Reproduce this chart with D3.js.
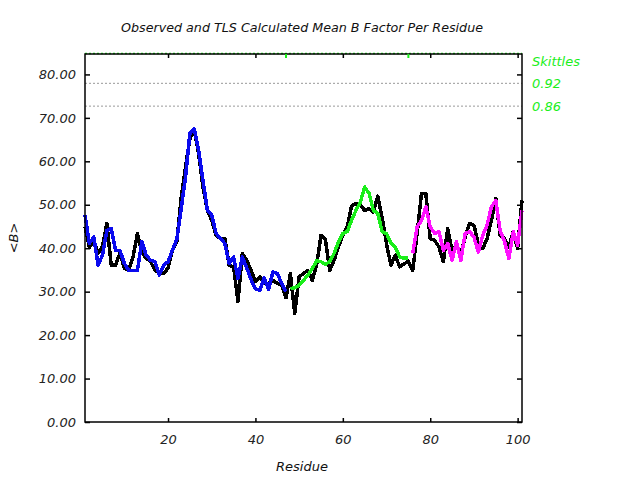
<!DOCTYPE html>
<html>
<head>
<meta charset="utf-8">
<script src="https://cdn.jsdelivr.net/npm/d3@7"></script>
<style>
  html, body { margin: 0; padding: 0; background: #fff; }
  svg { display: block; }
  text { font-family: "DejaVu Sans", sans-serif; font-style: italic; }
</style>
</head>
<body>
<svg id="chart" width="640" height="480"></svg>
<script>
// ---------------- data ----------------
const title = "Observed and TLS Calculated Mean B Factor Per Residue";
const xLabel = "Residue";
const yLabel = "<B>";

const xTicks = [20, 40, 60, 80, 100];
const yTicks = [0, 10, 20, 30, 40, 50, 60, 70, 80];

// observed mean B, residues 1..101
const observedStart = 1;
const observed = [
  45.0, 40.2, 41.8, 38.8, 40.4, 45.7, 36.1, 36.1, 38.9, 35.4,
  34.9, 38.0, 43.4, 39.1, 37.7, 36.9, 35.0, 34.2, 34.2, 35.4,
  39.5, 41.5, 51.5, 58.7, 65.2, 67.2, 61.8, 54.1, 48.7, 46.4,
  43.0, 42.2, 42.2, 36.1, 35.7, 27.7, 38.8, 37.3, 34.9, 32.3,
  33.4, 31.9, 31.9, 32.6, 31.9, 31.6, 28.6, 34.2, 25.0, 33.4,
  34.2, 34.9, 32.6, 36.1, 43.0, 42.0, 34.9, 37.2, 40.3, 43.0,
  44.9, 49.7, 50.3, 49.9, 48.7, 49.1, 48.3, 52.0, 47.0, 41.0,
  36.1, 38.4, 35.7, 36.4, 37.0, 34.9, 43.4, 52.6, 52.6, 42.2,
  41.8, 40.3, 36.9, 44.5, 39.5, 40.7, 38.8, 42.6, 45.7, 45.3,
  41.1, 39.9, 42.2, 46.4, 51.4, 43.0, 42.2, 40.3, 43.8, 39.9,
  51.0
];

// TLS segment 1 (blue), residues 1..47
const tls1Start = 1;
const tls1 = [
  47.6, 41.1, 42.6, 36.1, 38.4, 44.1, 44.5, 39.5, 39.5, 36.5,
  34.9, 34.9, 34.9, 41.5, 38.4, 37.2, 36.9, 33.8, 36.1, 36.9,
  39.5, 42.0, 49.0, 56.4, 66.4, 67.5, 62.5, 55.6, 48.7, 47.6,
  43.4, 42.2, 41.1, 36.5, 38.0, 33.0, 38.0, 35.5, 32.8, 30.6,
  30.3, 33.2, 30.5, 34.5, 34.2, 31.9, 30.0
];

// TLS segment 2 (green), residues 48..75
const tls2Start = 48;
const tls2 = [
  30.7, 30.9, 31.5, 32.6, 33.8, 35.3, 37.1, 36.9, 36.3, 36.9,
  38.8, 41.5, 43.4, 43.8, 46.4, 48.7, 50.6, 54.1, 52.6, 48.7,
  48.0, 43.8, 43.4, 41.1, 40.3, 38.0, 37.7, 37.7
];

// TLS segment 3 (magenta), residues 76..101
const tls3Start = 76;
const tls3 = [
  38.8, 44.9, 46.4, 49.5, 44.9, 43.4, 43.8, 39.5, 41.1, 37.2,
  41.5, 37.2, 43.4, 43.8, 42.6, 39.1, 42.9, 45.3, 49.5, 51.0,
  44.1, 41.5, 37.6, 43.8, 40.7, 48.7
];

// Skittles reference lines
const skittlesLabel = "Skittles";
const skittlesLevels = [0.92, 0.86];
const skittlesB = [77.95, 72.7];   // B value where the dotted reference lines lie
const segmentBounds = [47, 75];    // green markers on the top edge

// ---------------- layout ----------------
const svg = d3.select("#chart");
const pL = 85, pR = 522, pT = 54, pB = 422;

const x = d3.scaleLinear().domain([1, 101]).range([pL, pR]);
const y = d3.scaleLinear().domain([0, 84.7]).range([pB, pT]);

const green = "#1aee1a";

// title
svg.append("text")
  .attr("x", 302).attr("y", 32)
  .attr("text-anchor", "middle")
  .attr("font-size", 12.7)
  .attr("fill", "#111")
  .text(title);

// skittles dotted lines
svg.selectAll("line.sk")
  .data(skittlesB)
  .enter().append("line")
  .attr("x1", pL).attr("x2", pR)
  .attr("y1", d => y(d)).attr("y2", d => y(d))
  .attr("stroke", "#999")
  .attr("stroke-width", 1)
  .attr("stroke-dasharray", "2,2");

// top green dotted line
svg.append("line")
  .attr("x1", pL).attr("x2", pR)
  .attr("y1", pT - 0.5).attr("y2", pT - 0.5)
  .attr("stroke", green)
  .attr("stroke-width", 1.5)
  .attr("stroke-dasharray", "2,2");

// lines
const lineGen = (start) => d3.line()
  .x((d, i) => x(start + i))
  .y(d => y(d));

function drawSeries(vals, start, color) {
  svg.append("path")
    .datum(vals)
    .attr("d", lineGen(start))
    .attr("fill", "none")
    .attr("stroke", color)
    .attr("stroke-width", 3.5)
    .attr("stroke-linejoin", "round")
    .attr("shape-rendering", "crispEdges");
}
drawSeries(observed, observedStart, "#000000");
drawSeries(tls1, tls1Start, "#0a0aee");
drawSeries(tls2, tls2Start, green);
drawSeries(tls3, tls3Start, "#ff11ff");

// axes
const fmt = d3.format(".2f");
const gL = svg.append("g").attr("transform", `translate(${pL},0)`)
  .call(d3.axisLeft(y).tickValues(yTicks).tickSize(-5).tickPadding(9).tickFormat(fmt));
const gR = svg.append("g").attr("transform", `translate(${pR},0)`)
  .call(d3.axisRight(y).tickValues(yTicks).tickSize(-5).tickFormat(""));
const gB = svg.append("g").attr("transform", `translate(0,${pB})`)
  .call(d3.axisBottom(x).tickValues(xTicks).tickSize(-4).tickPadding(13).tickFormat(d3.format("d")));
const gT = svg.append("g").attr("transform", `translate(0,${pT})`)
  .call(d3.axisTop(x).tickValues(xTicks).tickSize(-4).tickFormat(""));

[gL, gR, gB, gT].forEach(g => {
  g.select(".domain").remove();
  g.selectAll(".tick line").attr("stroke", "#000").attr("stroke-width", 1.5);
  g.selectAll("text")
    .attr("font-family", '"DejaVu Sans", sans-serif')
    .attr("font-style", "italic")
    .attr("font-size", 13)
    .attr("fill", "#222");
});

// frame
svg.append("rect")
  .attr("x", pL).attr("y", pT)
  .attr("width", pR - pL).attr("height", pB - pT)
  .attr("fill", "none").attr("stroke", "#000").attr("stroke-width", 1.5);

// green segment markers on top edge
svg.selectAll("line.seg")
  .data(segmentBounds)
  .enter().append("line")
  .attr("x1", d => x(d)).attr("x2", d => x(d))
  .attr("y1", pT).attr("y2", pT + 4)
  .attr("stroke", green).attr("stroke-width", 2);

// right-hand labels
svg.append("text")
  .attr("x", 532).attr("y", 66)
  .attr("font-size", 13).attr("fill", green)
  .text(skittlesLabel);
svg.selectAll("text.skl")
  .data(skittlesLevels)
  .enter().append("text")
  .attr("x", 532)
  .attr("y", (d, i) => y(skittlesB[i]) + 5)
  .attr("font-size", 13).attr("fill", green)
  .text(d => d.toFixed(2));

// axis labels
svg.append("text")
  .attr("x", 302).attr("y", 471)
  .attr("text-anchor", "middle")
  .attr("font-size", 13)
  .attr("fill", "#111")
  .text(xLabel);
svg.append("text")
  .attr("transform", `translate(18,${(pT + pB) / 2}) rotate(-90)`)
  .attr("text-anchor", "middle")
  .attr("font-size", 13)
  .attr("fill", "#111")
  .text(yLabel);
</script>
</body>
</html>
